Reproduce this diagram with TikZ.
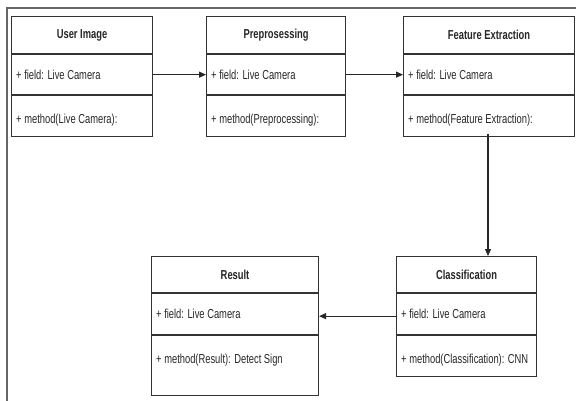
\documentclass[tikz,border=0pt]{standalone}
\usepackage{fontspec}
\setmainfont{Liberation Sans}[FakeStretch=0.72]
\usetikzlibrary{arrows.meta}
\tikzset{
  part/.style={draw=black!80, line width=1.1pt, rectangle, inner sep=0pt, anchor=north west},
  ttl/.style={font=\fontsize{13}{15}\selectfont\bfseries, text=black!85, inner sep=0pt},
  txt/.style={font=\fontsize{13}{15}\selectfont, text=black!85, inner sep=0pt, anchor=west},
  conn/.style={draw=black!85, line width=1.1pt, -{Triangle[length=7pt,width=6pt]}},
  frame/.style={draw=black!60, line width=1.6pt}
}
% #1 name, #2 x, #3 y, #4 width, #5 header h, #6 field h, #7 method h, #8 title, #9 field, #10 method
\newcommand\umlclass[9]{%
  \node[part, minimum width=#4 pt, minimum height=#5 pt] (#1-h) at (#2,#3) {};
  \node[ttl] (#1-t) at (#1-h.center) {#8};
  \node[part, minimum width=#4 pt, minimum height=#6 pt] (#1-f) at (#1-h.south west) {};
  \node[txt] (#1-ft) at ([xshift=5pt]#1-f.west) {#9};
  \node[part, minimum width=#4 pt, minimum height=#7 pt] (#1-m) at (#1-f.south west) {};
  \umlmethod{#1}}
\newcommand\umlmethod[2]{\node[txt] (#1-mt) at ([xshift=5pt,yshift=-25pt]#1-m.north west) {#2};}
\begin{document}
\begin{tikzpicture}[x=1pt,y=-1pt]
\useasboundingbox (0,0) rectangle (576,401);
\draw[frame] (7,401) -- (7,8) -- (576,8);
\umlclass{ui}{11}{16}{141}{37}{40}{41}{User Image}{+ field: Live Camera}{+ method(Live Camera):}
\umlclass{pp}{206}{16}{139}{37}{40}{41}{Preprosessing}{+ field: Live Camera}{+ method(Preprocessing):}
\umlclass{fe}{403}{16}{171}{37}{40}{41}{Feature Extraction}{+ field: Live Camera}{+ method(Feature Extraction):}
\umlclass{cl}{396}{256}{140}{36}{41}{41}{Classification}{+ field: Live Camera}{+ method(Classification): CNN}
\umlclass{rs}{151}{256}{167}{36}{41}{60}{Result}{+ field: Live Camera}{+ method(Result): Detect Sign}
\coordinate (fedown) at (488,134);
\coordinate (cltop) at (488,256);
\draw[conn] (ui-f.east) -- (pp-f.west);
\draw[conn] (pp-f.east) -- (fe-f.west);
\draw[conn] (fedown) -- (cltop);
\draw[conn] ([yshift=-2pt]cl-f.west) -- ([yshift=-2pt]rs-f.east);
\end{tikzpicture}
\end{document}
